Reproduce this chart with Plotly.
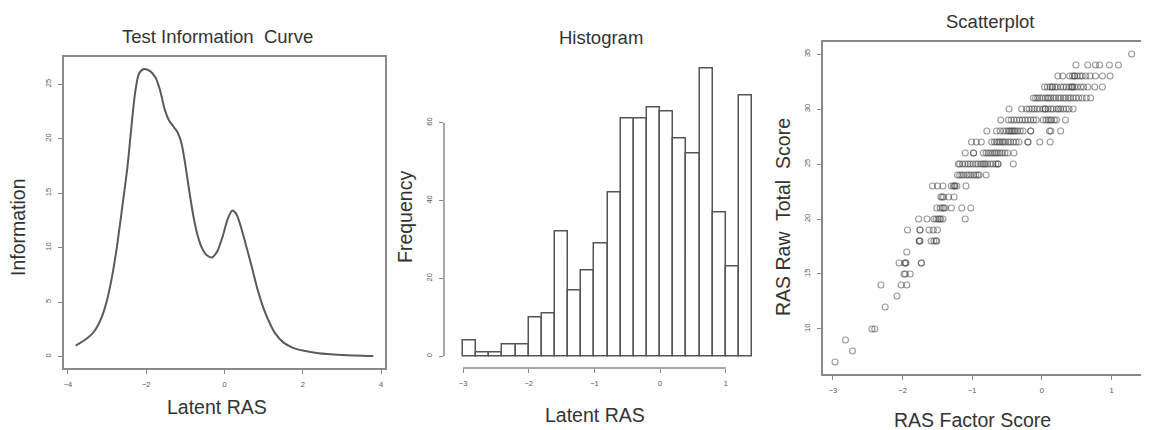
import plotly.graph_objects as go

# page body has an 8px default margin: figure is sized/positioned to compensate
OFF = 8
W, H = 1149 - OFF, 430 - OFF

# ---------------- data ----------------
# Test information curve (Latent RAS, Information)
tic_theta = [-3.80, -3.50, -3.33, -3.15, -3.00, -2.88, -2.76, -2.62, -2.48, -2.38,
             -2.28, -2.18, -2.06, -1.90, -1.76, -1.65, -1.52, -1.42, -1.30, -1.20,
             -1.10, -1.00, -0.90, -0.80, -0.70, -0.58, -0.45, -0.32, -0.18, -0.05,
             0.08, 0.20, 0.30, 0.42, 0.55, 0.70, 0.85, 1.00, 1.15, 1.30,
             1.50, 1.75, 2.00, 2.40, 3.00, 3.80]
tic_info = [1.0, 1.7, 2.3, 3.5, 5.2, 7.2, 9.8, 13.5, 17.4, 21.0,
            24.3, 26.0, 26.4, 26.2, 25.6, 24.5, 22.6, 21.7, 21.1, 20.6,
            19.6, 17.6, 15.2, 13.0, 11.3, 10.0, 9.3, 9.1, 9.7, 11.0,
            12.6, 13.4, 13.1, 11.9, 10.2, 8.2, 6.1, 4.4, 3.1, 2.1,
            1.3, 0.8, 0.55, 0.3, 0.15, 0.05]

# Histogram of latent RAS
hist_left_edges = [-3.0, -2.8, -2.6, -2.4, -2.2, -2.0, -1.8, -1.6, -1.4, -1.2, -1.0,
                   -0.8, -0.6, -0.4, -0.2, 0.0, 0.2, 0.4, 0.6, 0.8, 1.0, 1.2]
hist_bin_width = 0.2
hist_counts = [4, 1, 1, 3, 3, 10, 11, 32, 17, 22, 29,
               42, 61, 61, 64, 63, 56, 52, 74, 37, 23, 67]

# Scatterplot: raw total score rows and the factor scores in each row
raw_scores = [35, 34, 33, 32, 31, 30, 29, 28, 27, 26, 25, 24, 23, 22, 21, 20,
              19, 18, 17, 16, 15, 14, 13, 12, 10, 9, 8, 7]
factor_scores = [
    [1.29],
    [0.49, 0.66, 0.77, 0.83, 0.97, 1.10],
    [0.23, 0.30, 0.40, 0.44, 0.47, 0.47, 0.51, 0.55, 0.58, 0.63, 0.69, 0.77, 0.87, 0.98],
    [0.04, 0.08, 0.12, 0.15, 0.15, 0.19, 0.22, 0.27, 0.31, 0.35, 0.39, 0.42, 0.44, 0.44,
     0.47, 0.51, 0.56, 0.60, 0.66, 0.76, 0.87],
    [-0.12, -0.09, -0.06, -0.03, 0.01, 0.05, 0.08, 0.10, 0.13, 0.17, 0.20, 0.24, 0.27,
     0.31, 0.34, 0.38, 0.41, 0.45, 0.49, 0.53, 0.58, 0.64, 0.70],
    [-0.47, -0.29, -0.22, -0.18, -0.14, -0.11, -0.07, -0.03, 0.02, 0.05, 0.05, 0.09,
     0.13, 0.16, 0.21, 0.24, 0.27, 0.31, 0.35, 0.39, 0.45],
    [-0.59, -0.48, -0.44, -0.40, -0.36, -0.32, -0.28, -0.24, -0.20, -0.16, -0.12, -0.08,
     0.02, 0.06, 0.09, 0.12, 0.14, 0.18, 0.21, 0.34],
    [-0.79, -0.65, -0.60, -0.55, -0.51, -0.48, -0.46, -0.44, -0.42, -0.40, -0.38, -0.35,
     -0.31, -0.27, -0.16, -0.16, 0.11, 0.13, 0.27],
    [-1.01, -0.94, -0.87, -0.72, -0.68, -0.65, -0.62, -0.60, -0.57, -0.55, -0.52, -0.48,
     -0.45, -0.41, -0.37, -0.33, -0.20, -0.20, -0.03, 0.12],
    [-1.10, -0.98, -0.98, -0.84, -0.80, -0.77, -0.74, -0.71, -0.68, -0.66, -0.63, -0.60,
     -0.57, -0.53, -0.49, -0.40],
    [-1.20, -1.18, -1.14, -1.10, -1.06, -1.03, -0.99, -0.95, -0.92, -0.88, -0.85, -0.83,
     -0.81, -0.78, -0.74, -0.70, -0.66, -0.63, -0.63, -0.41],
    [-1.21, -1.18, -1.15, -1.12, -1.08, -1.05, -1.02, -0.98, -0.95, -0.92, -0.90, -0.80],
    [-1.57, -1.50, -1.42, -1.30, -1.27, -1.25, -1.25, -1.22, -1.09],
    [-1.45, -1.43, -1.41, -1.34, -1.26],
    [-1.51, -1.46, -1.43, -1.41, -1.39, -1.30, -1.15, -1.02],
    [-1.77, -1.65, -1.55, -1.52, -1.49, -1.47, -1.45, -1.42, -1.10],
    [-1.93, -1.75, -1.75, -1.62, -1.56, -1.50],
    [-1.76, -1.76, -1.75, -1.59, -1.55, -1.52, -1.51],
    [-1.94],
    [-2.05, -1.97, -1.96, -1.95, -1.73, -1.73],
    [-1.98, -1.96, -1.89],
    [-2.31, -2.02, -1.94],
    [-2.08],
    [-2.25],
    [-2.44, -2.40],
    [-2.82],
    [-2.72],
    [-2.97],
]

# tick values
tic_xticks = [-4, -2, 0, 2, 4]
tic_yticks = [0, 5, 10, 15, 20, 25]
hist_xticks = [-3, -2, -1, 0, 1]
hist_yticks = [0, 20, 40, 60]
sc_xticks = [-3, -2, -1, 0, 1]
sc_yticks = [10, 15, 20, 25, 30, 35]

# ---------------- figure ----------------
FONT = "Liberation Sans, Arial, Helvetica, sans-serif"
TXT = "#333333"
AX = "#8a8a8a"
TICKFONT = dict(family=FONT, size=7.5, color="#555555")

sc_x, sc_y = [], []
for score, row in zip(raw_scores, factor_scores):
    for v in row:
        sc_x.append(v)
        sc_y.append(score)

hist_centers = [e + hist_bin_width / 2 for e in hist_left_edges]

fig = go.Figure()
fig.add_trace(go.Scatter(x=tic_theta, y=tic_info, mode="lines",
                         line=dict(color="#5a5a5a", width=2, shape="spline", smoothing=0.8),
                         xaxis="x", yaxis="y", showlegend=False))
fig.add_trace(go.Bar(x=hist_centers, y=hist_counts, width=hist_bin_width,
                     marker=dict(color="white", line=dict(color="#555555", width=1.5)),
                     xaxis="x2", yaxis="y2", showlegend=False))
fig.add_trace(go.Scatter(x=sc_x, y=sc_y, mode="markers",
                         marker=dict(symbol="circle-open", size=6, color="rgba(70,70,70,0.55)",
                                     line=dict(width=1.1)),
                         xaxis="x3", yaxis="y3", showlegend=False))


def px(x):
    return (x - OFF) / W


def py(y):
    return 1 - (y - OFF) / H


common = dict(showgrid=False, zeroline=False, ticks="outside", ticklen=4, tickwidth=1,
              tickcolor=AX, tickfont=TICKFONT, ticklabelstandoff=4)

fig.update_layout(
    width=W, height=H,
    margin=dict(l=0, r=0, t=0, b=0),
    paper_bgcolor="white", plot_bgcolor="white",
    bargap=0,
    xaxis=dict(domain=[px(64), px(385)], range=[-4.1, 4.1], tickvals=tic_xticks,
               showline=True, mirror=True, linecolor=AX, linewidth=1.5, anchor="y", **common),
    yaxis=dict(domain=[py(368), py(57)], range=[-1.05, 27.5], tickvals=tic_yticks,
               tickangle=-90, showline=True, mirror=True, linecolor=AX, linewidth=1.5,
               anchor="x", **common),
    xaxis2=dict(domain=[px(444), px(762)], range=[-3.29, 1.55], tickvals=hist_xticks,
                showline=False, anchor="y2", **common),
    yaxis2=dict(domain=[py(368), py(56.5)], range=[-3.0, 77.0], tickvals=hist_yticks,
                tickangle=-90, showline=False, anchor="x2", **common),
    xaxis3=dict(domain=[px(823), min(1.0, px(1143))], range=[-3.143, 1.453], tickvals=sc_xticks,
                showline=True, mirror=True, linecolor=AX, linewidth=1.5, anchor="y3", **common),
    yaxis3=dict(domain=[py(374.3), py(41.7)], range=[5.88, 36.12], tickvals=sc_yticks,
                tickangle=-90, showline=True, mirror=True, linecolor=AX, linewidth=1.5,
                anchor="x3", **common),
)

# R-style axis lines for the histogram (span only first..last tick)
fig.add_shape(type="line", xref="x2", yref="y2 domain",
              x0=min(hist_xticks), x1=max(hist_xticks), y0=0, y1=0,
              line=dict(color=AX, width=1.5))
fig.add_shape(type="line", xref="x2 domain", yref="y2",
              x0=0, x1=0, y0=min(hist_yticks), y1=max(hist_yticks),
              line=dict(color=AX, width=1.5))


def label(text, x, y, size, angle=0):
    fig.add_annotation(text=text, x=px(x), y=py(y), xref="paper", yref="paper",
                       xanchor="center", yanchor="middle", showarrow=False,
                       textangle=angle, font=dict(family=FONT, size=size, color=TXT))


label("Test Information&#160; Curve", 217, 37, 18.5)
label("Latent RAS", 217, 407, 19.5)
label("Information", 18, 227, 19.5, -90)

label("Histogram", 601, 38, 18.5)
label("Latent RAS", 595, 415, 19.5)
label("Frequency", 405, 217, 19.5, -90)

label("Scatterplot", 990, 21, 18.5)
label("RAS Factor Score", 972, 420, 19.5)
label("RAS Raw&#160; Total&#160; Score", 783, 217, 19.5, -90)

fig.write_html("out.html")
